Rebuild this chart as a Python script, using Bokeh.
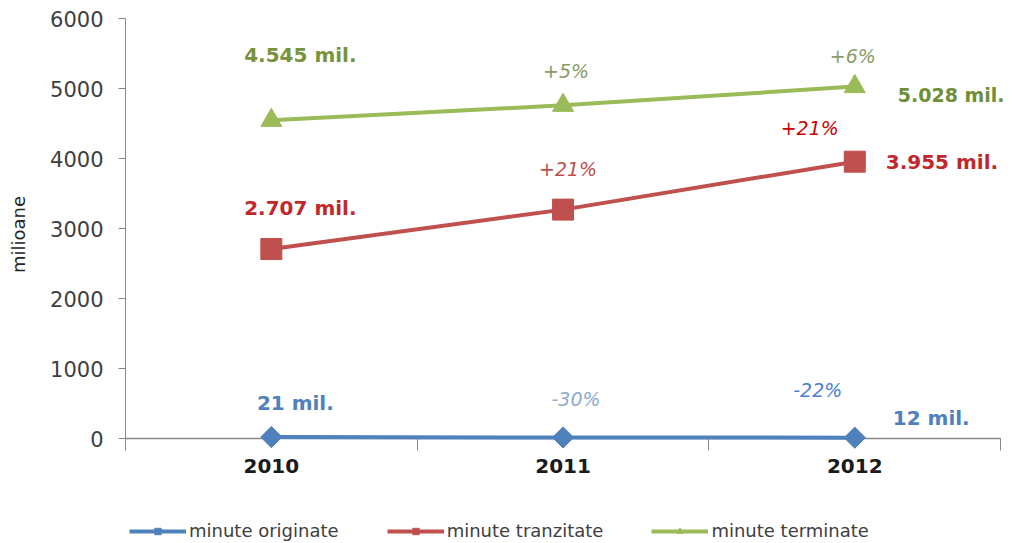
import math
from bokeh.plotting import figure
from bokeh.layouts import column
from bokeh.models import Range1d, FixedTicker, Legend, LegendItem, Label
from bokeh.embed import file_html
from bokeh.resources import INLINE

# ---- data ----
years = ["2010", "2011", "2012"]
originate = [21, 15, 12]
tranzitate = [2707, 3270, 3955]
terminate = [4545, 4760, 5028]

series_names = ["minute originate", "minute tranzitate", "minute terminate"]
y_ticks = [0, 1000, 2000, 3000, 4000, 5000, 6000]
x_bounds = [0, 1, 2, 3]

value_labels_orig = ["21 mil.", "12 mil."]
value_labels_tranz = ["2.707 mil.", "3.955 mil."]
value_labels_term = ["4.545 mil.", "5.028 mil."]
pct_orig = ["-30%", "-22%"]
pct_tranz = ["+21%", "+21%"]
pct_term = ["+5%", "+6%"]

FONT = "DejaVu Sans"
BLUE = "#4F81BD"
RED = "#C0504D"
GREEN = "#9BBB59"
AXIS = "#868686"

xs = [i + 0.5 for i in range(len(years))]
specs = [
    (originate, BLUE, "square", 15, math.pi / 4),
    (tranzitate, RED, "square", 21, 0),
    (terminate, GREEN, "triangle", 21, 0),
]

W = 1008
p = figure(width=W, height=490, output_backend="svg", toolbar_location=None,
           x_range=Range1d(0, 3.027), y_range=Range1d(-171, 6000),
           min_border_left=125, min_border_right=0, min_border_top=18,
           min_border_bottom=40)
p.outline_line_color = None
p.xgrid.visible = False
p.ygrid.visible = False
p.background_fill_color = "white"
p.border_fill_color = "white"

# y axis
ya = p.yaxis[0]
ya.ticker = FixedTicker(ticks=y_ticks)
ya.axis_line_color = AXIS
ya.major_tick_line_color = AXIS
ya.major_tick_out = 7
ya.major_tick_in = 0
ya.minor_tick_line_color = None
ya.major_label_standoff = 15
ya.major_label_text_font = FONT
ya.major_label_text_font_size = "21px"
ya.major_label_text_color = "#404040"
ya.axis_label = "milioane"
ya.axis_label_text_font = FONT
ya.axis_label_text_font_size = "18px"
ya.axis_label_text_font_style = "normal"
ya.axis_label_text_color = "#262626"
ya.axis_label_standoff = 18

# x axis: labels at category centres, boundary ticks reaching up to the zero line
xa = p.xaxis[0]
xa.ticker = FixedTicker(ticks=xs, minor_ticks=x_bounds)
xa.major_label_overrides = {x: y for x, y in zip(xs, years)}
xa.axis_line_color = None
xa.major_tick_line_color = None
xa.major_tick_out = 0
xa.major_tick_in = 0
xa.minor_tick_line_color = AXIS
xa.minor_tick_out = 0
xa.minor_tick_in = 12
xa.major_label_standoff = 8
xa.major_label_text_font = FONT
xa.major_label_text_font_size = "20px"
xa.major_label_text_font_style = "bold"
xa.major_label_text_color = "#1a1a1a"

# category axis line at value 0, spanning the category boundaries
p.segment(x0=[x_bounds[0]], y0=[y_ticks[0]], x1=[x_bounds[-1]], y1=[y_ticks[0]],
          line_color=AXIS, line_width=1.5)

for vals, col, marker, size, ang in specs:
    p.line(xs, vals, line_color=col, line_width=4)
    p.scatter(xs, vals, marker=marker, size=size, angle=ang,
              fill_color=col, line_color=col)


def put(x, y, txt, color, dx, dy, style, size, align="center"):
    # dx, dy: pixel offsets (dy positive = downwards on screen)
    p.add_layout(Label(x=x, y=y, text=txt, x_offset=dx, y_offset=-dy,
                       text_color=color, text_font=FONT, text_font_size=size,
                       text_font_style=style, text_align=align,
                       text_baseline="middle"))


put(xs[0], terminate[0], value_labels_term[0], "#77933C", 29, -65, "bold", "20px")
put(xs[1], terminate[1], pct_term[0], "#8A9B6A", 3, -34, "italic", "19px")
put(xs[2], terminate[2], pct_term[1], "#8A9B6A", -2, -31, "italic", "19px")
put(xs[2], terminate[2], value_labels_term[1], "#6F8E3A", 43, 8, "bold", "19px", "left")
put(xs[0], tranzitate[0], value_labels_tranz[0], "#C0282D", 29, -41, "bold", "20px")
put(xs[1], tranzitate[1], pct_tranz[0], "#C0504D", 5, -41, "italic", "19px")
put(xs[2], tranzitate[2], pct_tranz[1], "#CC0000", -45, -34, "italic", "19px")
put(xs[2], tranzitate[2], value_labels_tranz[1], "#C0282D", 31, 0, "bold", "20px", "left")
put(xs[0], originate[0], value_labels_orig[0], BLUE, 24, -34, "bold", "20px")
put(xs[1], originate[1], pct_orig[0], "#8EA9D0", 13, -38, "italic", "19px")
put(xs[2], originate[2], pct_orig[1], "#4A7FD6", -37, -48, "italic", "19px")
put(xs[2], originate[2], value_labels_orig[1], BLUE, 38, -20, "bold", "20px", "left")

# ---- legend strip below the chart ----
lf = figure(width=W, height=52, output_backend="svg", toolbar_location=None,
            x_range=Range1d(0, 3), y_range=Range1d(0, 6000),
            x_axis_type=None, y_axis_type=None,
            min_border_left=0, min_border_right=0, min_border_top=0,
            min_border_bottom=0)
lf.outline_line_color = None
lf.xgrid.visible = False
lf.ygrid.visible = False
lf.border_fill_color = "white"

items = []
for name, (vals, col, marker, size, ang) in zip(series_names, specs):
    ln = lf.line(xs, vals, line_color=col, line_width=4, visible=False)
    sc = lf.scatter(xs, vals, marker=marker, size=size, angle=ang,
                    fill_color=col, line_color=col, visible=False)
    items.append(LegendItem(label=name, renderers=[ln, sc]))

legend = Legend(items=items, orientation="horizontal", location=(4, 1),
                label_text_font=FONT, label_text_font_size="18px",
                label_text_color="#404040", glyph_width=57, glyph_height=16,
                spacing=48, border_line_color=None, background_fill_alpha=0,
                inactive_fill_alpha=0, margin=0, padding=2, label_standoff=3)
lf.add_layout(legend)

layout = column(p, lf, spacing=0)
open("out.html", "w").write(file_html(layout, INLINE))
